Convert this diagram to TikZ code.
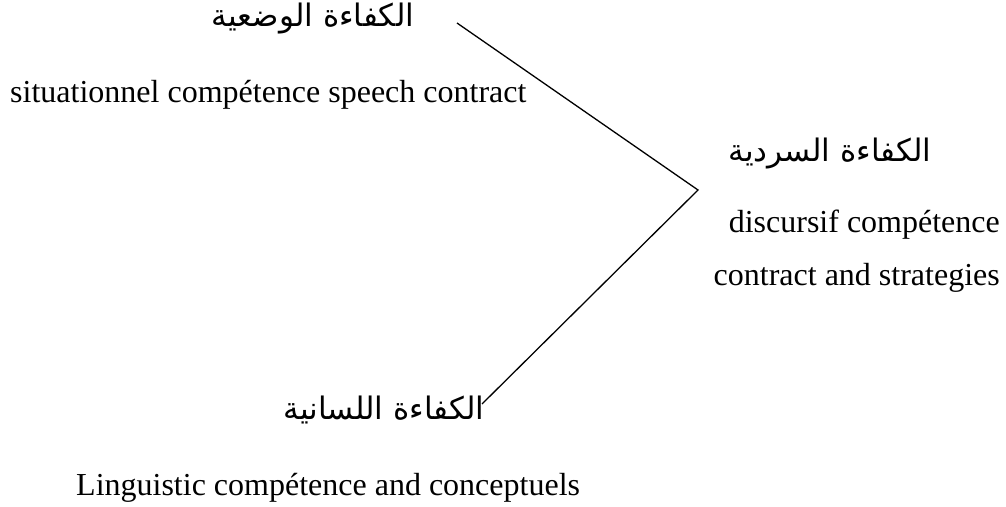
\documentclass[tikz,border=0pt]{standalone}
\usepackage{fontspec}
\setmainfont{Liberation Serif}
\newfontfamily\arabicfont[Script=Arabic]{DejaVu Sans}
\TeXXeTstate=1
\begin{document}
\begin{tikzpicture}[x=1pt,y=-1pt,
  ar/.style={font=\arabicfont\fontsize{31}{36}\selectfont, inner sep=0pt},
  en/.style={font=\fontsize{32}{38}\selectfont, inner sep=0pt},
  link/.style={draw=black, line width=1.3pt}]
\useasboundingbox (0,0) rectangle (1006,506);
\node[ar] (arTop) at (313,19) {\beginR الكفاءة الوضعية\endR};
\node[en, anchor=base west] (enTop) at (10,102) {situationnel compétence speech contract};
\node[ar] (arRight) at (830,154) {\beginR الكفاءة السردية\endR};
\node[en, anchor=base east] (enRight1) at (1000,232) {discursif compétence};
\node[en, anchor=base east] (enRight2) at (1000,285) {contract and strategies};
\node[ar] (arBot) at (384,410) {\beginR الكفاءة اللسانية\endR};
\node[en, anchor=base west] (enBot) at (76,495) {Linguistic compétence and conceptuels};
\coordinate (pTop) at (457,23);
\coordinate (pMid) at (698,190);
\coordinate (pBot) at (482,404);
\draw[link] (pTop) -- (pMid) -- (pBot);
\end{tikzpicture}
\end{document}
